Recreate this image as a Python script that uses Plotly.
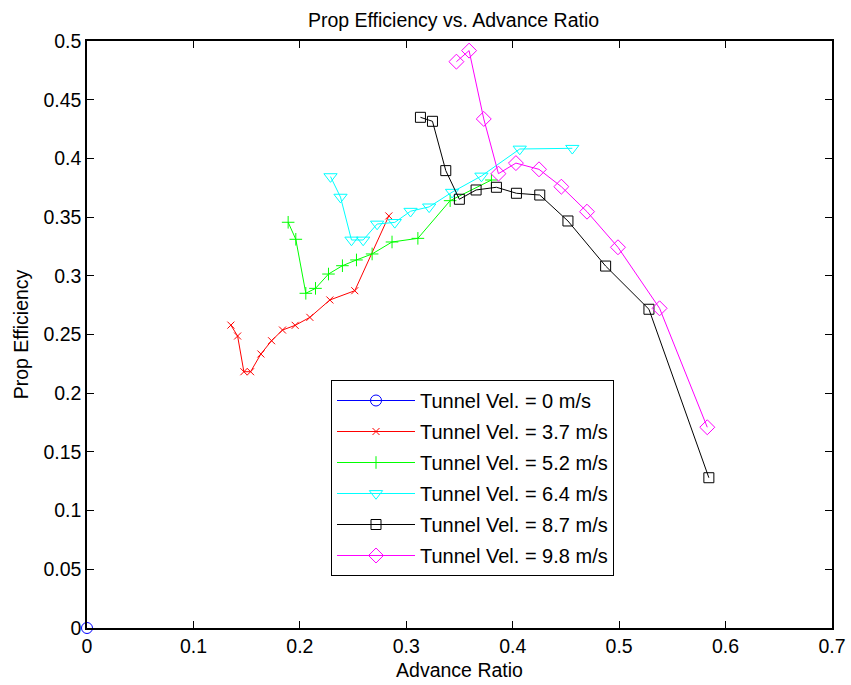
import plotly.graph_objects as go

# ---- data ----
labels = ["Tunnel Vel. = 0 m/s", "Tunnel Vel. = 3.7 m/s", "Tunnel Vel. = 5.2 m/s",
          "Tunnel Vel. = 6.4 m/s", "Tunnel Vel. = 8.7 m/s", "Tunnel Vel. = 9.8 m/s"]

j_0 = [0.0]
eff_0 = [0.0]

j_37 = [0.1352, 0.1415, 0.1474, 0.1537, 0.1634, 0.1734, 0.1837, 0.1956, 0.2094, 0.2282, 0.2516, 0.2836]
eff_37 = [0.258, 0.2487, 0.2183, 0.2183, 0.2334, 0.2447, 0.2538, 0.2578, 0.2646, 0.2794, 0.2873, 0.3510]

j_52 = [0.1890, 0.1962, 0.2056, 0.2147, 0.2269, 0.2400, 0.2532, 0.2679, 0.2866, 0.3109, 0.3412, 0.3800]
eff_52 = [0.3456, 0.3311, 0.2851, 0.2893, 0.3015, 0.3086, 0.3135, 0.3186, 0.3288, 0.3319, 0.3640, 0.3816]

j_64 = [0.2288, 0.2382, 0.2485, 0.2595, 0.2726, 0.2892, 0.3040, 0.3215, 0.3430, 0.3706, 0.4066, 0.4560]
eff_64 = [0.3845, 0.3670, 0.3305, 0.3305, 0.3441, 0.3455, 0.3550, 0.3587, 0.3712, 0.3850, 0.4080, 0.4086]

j_87 = [0.3133, 0.3246, 0.3371, 0.3499, 0.3656, 0.3847, 0.4035, 0.4254, 0.4519, 0.4873, 0.5280, 0.5843]
eff_87 = [0.4350, 0.4316, 0.3896, 0.3652, 0.3731, 0.3754, 0.3703, 0.3688, 0.3467, 0.3083, 0.2715, 0.1280]

j_98 = [0.3471, 0.3590, 0.3728, 0.3866, 0.4030, 0.4247, 0.4457, 0.4698, 0.4989, 0.5380, 0.5828]
eff_98 = [0.4824, 0.4918, 0.4336, 0.3870, 0.3960, 0.3907, 0.3759, 0.3546, 0.3243, 0.2723, 0.1710]

x_ticks = [0, 0.1, 0.2, 0.3, 0.4, 0.5, 0.6, 0.7]
y_ticks = [0, 0.05, 0.1, 0.15, 0.2, 0.25, 0.3, 0.35, 0.4, 0.45, 0.5]

FONT = "Liberation Sans, Arial, Helvetica, sans-serif"
FS = 19.5

series = [
    (j_0, eff_0, "#0000FF", "circle-open", 11),
    (j_37, eff_37, "#FF0000", "x-thin-open", 7),
    (j_52, eff_52, "#00FF00", "cross-thin-open", 9),
    (j_64, eff_64, "#00FFFF", "triangle-down-open", 11.5),
    (j_87, eff_87, "#000000", "square-open", 10),
    (j_98, eff_98, "#FF00FF", "diamond-open", 11.5),
]

fig = go.Figure()
for i, (xs, ys, col, sym, sz) in enumerate(series):
    fig.add_trace(go.Scatter(
        x=xs, y=ys, mode="lines+markers", name=labels[i],
        legendgroup="g%d" % i,
        line=dict(color=col, width=1),
        marker=dict(symbol=sym, size=sz, color=col, line=dict(color=col, width=1)),
        cliponaxis=False,
    ))

fig.update_layout(
    width=851, height=685,
    margin=dict(l=87, r=19, t=41, b=57, autoexpand=False),
    paper_bgcolor="white", plot_bgcolor="white",
    font=dict(family=FONT, size=FS, color="black"),
    title=dict(text="Prop Efficiency vs. Advance Ratio", x=453.5 / 851, xanchor="center",
               xref="container", y=1 - 20 / 685, yanchor="middle", yref="container",
               font=dict(size=FS, family=FONT, color="black")),
    showlegend=True,
    legend=dict(x=(331 - 87) / 745, y=(628 - 380) / 587, xanchor="left", yanchor="top",
                bgcolor="white", bordercolor="black", borderwidth=1,
                font=dict(size=20, family=FONT, color="black"),
                traceorder="grouped", tracegroupgap=2, itemwidth=78),
)

fig.update_xaxes(
    range=[0, 0.7], tickvals=x_ticks, ticktext=[("%g" % v) for v in x_ticks],
    showline=True, linecolor="black", linewidth=1.5, mirror="ticks",
    ticks="inside", ticklen=7, tickcolor="black", showgrid=False, zeroline=False,
    automargin=False,
    title=dict(text="Advance Ratio", standoff=7, font=dict(size=FS, family=FONT)),
)
fig.update_yaxes(
    range=[0, 0.5], tickvals=y_ticks, ticktext=[("%g" % v) for v in y_ticks],
    showline=True, linecolor="black", linewidth=1.5, mirror="ticks",
    ticks="inside", ticklen=7, tickcolor="black", showgrid=False, zeroline=False,
    automargin=False,
    title=dict(text="Prop Efficiency", standoff=10, font=dict(size=FS, family=FONT)),
)

fig.write_html("out.html")
